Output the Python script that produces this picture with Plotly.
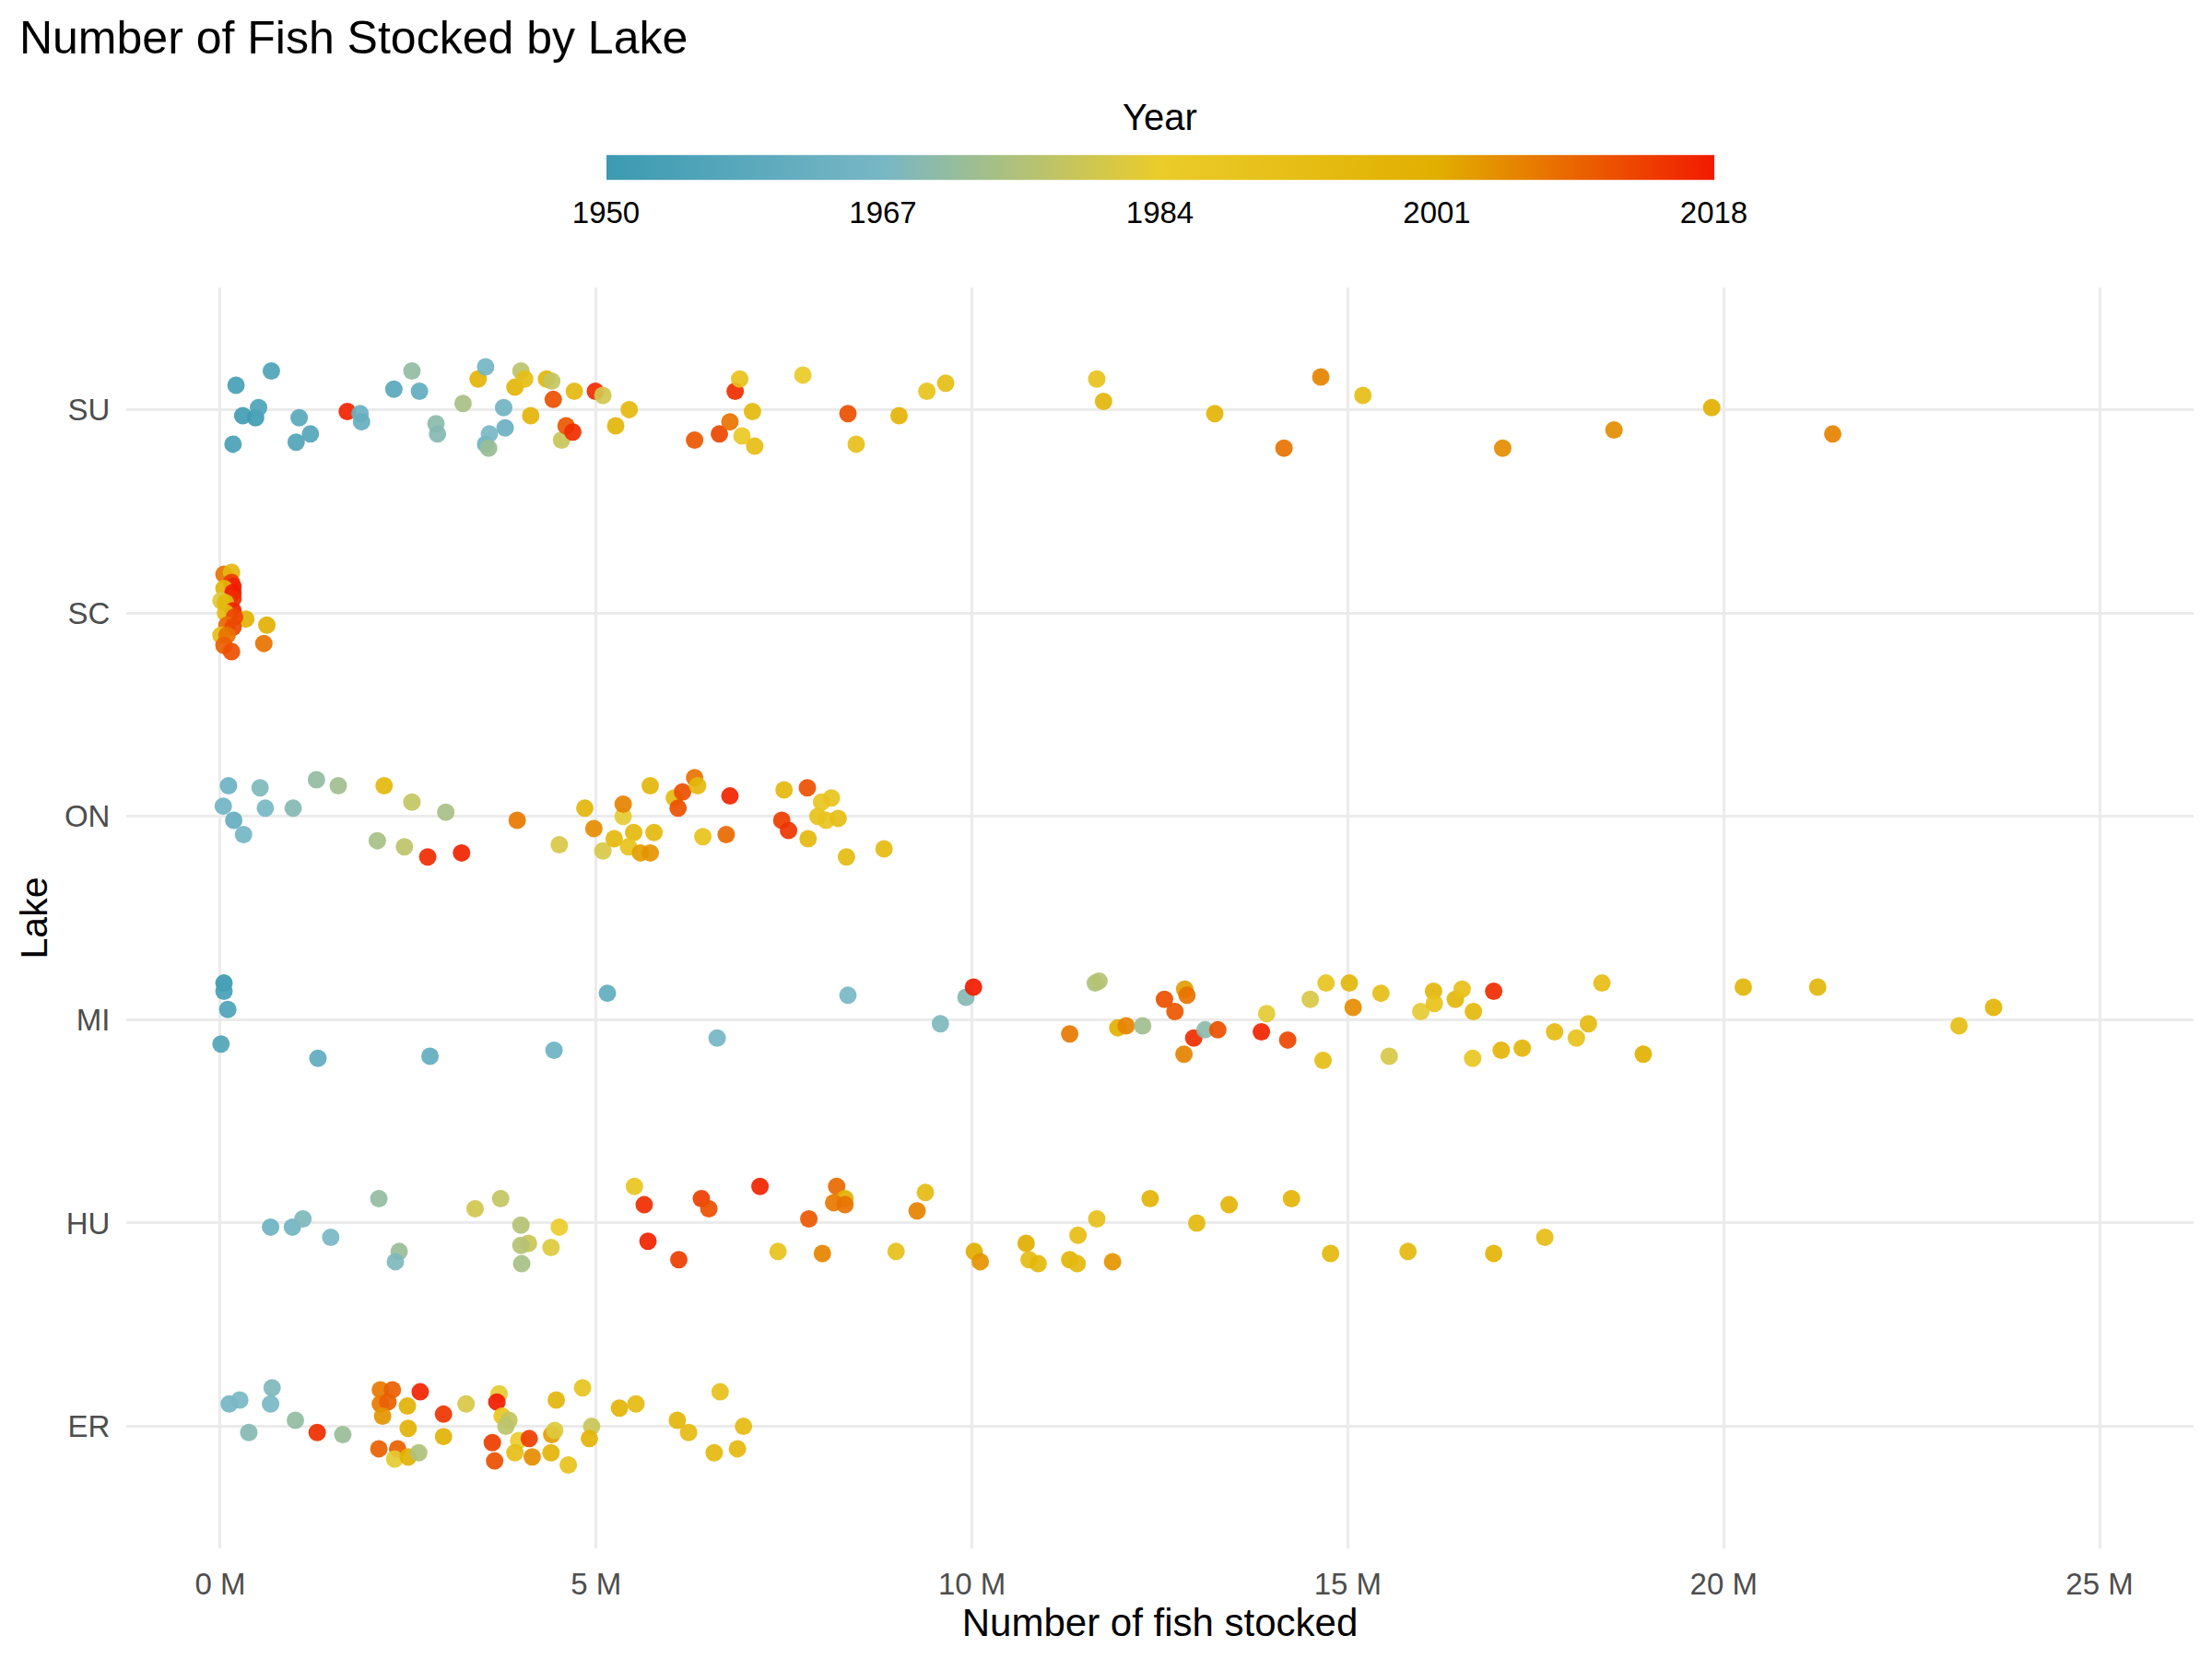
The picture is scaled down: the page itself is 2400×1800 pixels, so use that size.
import pandas as pd
import plotly.graph_objects as go

# lakes from bottom to top
lakes = ["ER", "HU", "MI", "ON", "SC", "SU"]

# values (millions of fish, jitter in row units, year)
su_fish = [0.21, 0.68, 0.17, 0.30, 0.47, 0.51, 1.05, 1.01, 1.20, 1.69, 1.86, 1.88, 2.31, 2.55, 2.65, 2.87,
           2.89, 3.23, 3.43, 3.53, 3.53, 3.58, 3.57, 3.77, 3.79, 3.92, 4.00, 4.05, 4.13, 4.34, 4.41, 4.43,
           4.54, 4.60, 4.69, 4.71, 4.99, 5.09, 5.26, 5.44, 6.31, 6.64, 6.78, 6.85, 6.91, 6.94, 7.08, 7.11,
           7.75, 8.35, 8.46, 9.03, 9.40, 9.65, 11.66, 11.75, 13.23, 14.15, 14.64, 15.20, 17.06, 18.54,
           19.84, 21.45]
su_jitter = [0.12, 0.19, -0.17, -0.03, -0.04, 0.01, -0.04, -0.16, -0.12, -0.01, -0.02, -0.06, 0.10, 0.19,
             0.09, -0.07, -0.12, 0.03, 0.15, 0.21, -0.17, -0.12, -0.19, 0.01, -0.09, 0.11, 0.19, 0.15,
             -0.03, 0.15, 0.14, 0.05, -0.15, -0.08, -0.11, 0.09, 0.09, 0.07, -0.08, 0.00, -0.15, -0.12,
             -0.06, 0.09, 0.15, -0.13, -0.01, -0.18, 0.17, -0.02, -0.17, -0.03, 0.09, 0.13, 0.15, 0.04,
             -0.02, -0.19, 0.16, 0.07, -0.19, -0.10, 0.01, -0.12]
su_year = [1953, 1955, 1954, 1952, 1951, 1955, 1958, 1956, 1957, 2017, 1963, 1962, 1958, 1971, 1961, 1970,
           1969, 1974, 1998, 1966, 1964, 1967, 1972, 1965, 1963, 1997, 1977, 1992, 1998, 1997, 1978, 2012,
           1979, 2011, 2016, 1995, 2016, 1980, 1997, 1996, 2011, 2013, 2008, 2016, 1990, 1986, 1995, 1993,
           1985, 2012, 1991, 1998, 1990, 1992, 1990, 1997, 1998, 2008, 2006, 1992, 2005, 2005, 2000, 2006]

sc_fish = [0.05, 0.15, 0.15, 0.17, 0.05, 0.17, 0.17, 0.01, 0.07, 0.17, 0.07, 0.34, 0.19, 0.62, 0.09, 0.17,
           0.01, 0.09, 0.05, 0.15, 0.58]
sc_jitter = [0.19, 0.20, 0.15, 0.13, 0.12, 0.10, 0.07, 0.06, 0.05, 0.01, 0.00, -0.03, -0.02, -0.06, -0.06,
             -0.07, -0.11, -0.11, -0.16, -0.19, -0.15]
sc_year = [2008, 1995, 2014, 2017, 1998, 2018, 2016, 1982, 1996, 2017, 1994, 1999, 2013, 2000, 2009, 2013,
           1993, 2008, 2010, 2012, 2008]

on_fish = [0.11, 0.04, 0.18, 0.31, 0.53, 0.60, 0.97, 1.28, 1.57, 2.18, 2.55, 3.00, 2.09, 2.45, 2.76, 3.21,
           3.95, 4.51, 4.85, 4.97, 5.09, 5.24, 5.36, 5.36, 5.50, 5.43, 5.59, 5.72, 5.77, 5.72, 6.04, 6.15,
           6.09, 6.31, 6.35, 6.42, 6.73, 6.78, 7.47, 7.50, 7.56, 7.81, 7.82, 7.95, 8.00, 8.06, 8.13, 8.22,
           8.33, 8.83]
on_jitter = [0.15, 0.05, -0.02, -0.09, 0.14, 0.04, 0.04, 0.18, 0.15, 0.15, 0.07, 0.02, -0.12, -0.15, -0.20,
             -0.18, -0.02, -0.14, 0.04, -0.06, -0.17, -0.11, 0.00, 0.06, -0.08, -0.15, -0.18, -0.18, -0.08,
             0.15, 0.09, 0.12, 0.04, 0.19, 0.15, -0.10, -0.09, 0.10, -0.02, 0.13, -0.07, 0.14, -0.11, 0.00,
             0.07, -0.02, 0.09, -0.01, -0.20, -0.16]
on_year = [1964, 1965, 1962, 1966, 1968, 1967, 1969, 1971, 1973, 1996, 1978, 1974, 1974, 1977, 2016, 2017,
           2007, 1981, 1997, 2005, 1981, 1996, 1983, 2006, 1996, 1990, 2003, 2004, 1995, 1997, 1994, 2012,
           2012, 2008, 1996, 1990, 2009, 2017, 2014, 1996, 2015, 2012, 1995, 1990, 1988, 1989, 1989, 1992,
           1994, 1994]

mi_fish = [0.05, 0.05, 0.10, 0.01, 1.30, 2.79, 4.44, 5.15, 6.61, 8.35, 9.58, 9.92, 10.02, 11.30, 11.64,
           11.69, 11.94, 12.05, 12.27, 12.56, 12.70, 12.83, 12.86, 12.95, 12.82, 13.10, 13.27, 13.85, 13.92,
           14.20, 14.50, 14.71, 14.67, 15.02, 15.07, 15.44, 15.55, 15.97, 16.14, 16.15, 16.43, 16.52, 16.67,
           16.94, 16.66, 17.04, 17.32, 17.75, 18.04, 18.20, 18.38, 18.93, 20.26, 21.25, 23.13, 23.59]
mi_jitter = [0.18, 0.14, 0.05, -0.12, -0.19, -0.18, -0.15, 0.13, -0.09, 0.12, -0.02, 0.11, 0.16, -0.07,
             0.18, 0.19, -0.04, -0.03, -0.03, 0.10, 0.04, 0.15, 0.12, -0.09, -0.17, -0.05, -0.05, -0.06,
             0.03, -0.10, 0.10, 0.18, -0.20, 0.18, 0.06, 0.13, -0.18, 0.04, 0.14, 0.08, 0.10, 0.15, 0.04,
             0.14, -0.19, -0.15, -0.14, -0.06, -0.09, -0.02, 0.18, -0.17, 0.16, 0.16, -0.03, 0.06]
mi_year = [1950, 1953, 1955, 1956, 1960, 1961, 1964, 1961, 1966, 1967, 1968, 1969, 2018, 2007, 1975, 1976,
           2000, 2006, 1973, 2012, 2011, 2003, 2008, 2016, 2006, 1970, 2012, 2017, 1983, 2013, 1981, 1989,
           1992, 1997, 2005, 1992, 1981, 1983, 1997, 1990, 1997, 1991, 1996, 2016, 1987, 1998, 1997, 1994,
           1990, 1994, 1993, 2000, 1997, 1997, 1992, 1998]

hu_fish = [0.67, 0.96, 1.10, 1.47, 2.11, 2.38, 2.33, 3.39, 3.73, 4.00, 4.10, 4.00, 4.01, 4.51, 4.40, 5.51,
           5.64, 5.69, 6.10, 6.40, 6.50, 7.18, 7.83, 7.42, 8.01, 8.20, 8.31, 8.16, 8.31, 9.38, 9.27, 8.99,
           10.03, 10.11, 10.72, 10.76, 10.88, 11.30, 11.40, 11.41, 11.66, 11.87, 12.37, 12.99, 13.42, 14.25,
           14.77, 15.80, 16.94, 17.62]
hu_jitter = [-0.02, -0.02, 0.02, -0.07, 0.12, -0.14, -0.19, 0.07, 0.12, -0.01, -0.10, -0.11, -0.20, -0.02,
             -0.12, 0.18, 0.09, -0.09, -0.18, 0.12, 0.07, 0.18, 0.02, -0.14, -0.15, 0.18, 0.12, 0.10, 0.09,
             0.15, 0.06, -0.14, -0.14, -0.19, -0.10, -0.18, -0.20, -0.18, -0.20, -0.06, 0.02, -0.19, 0.12,
             0.00, 0.09, 0.12, -0.15, -0.14, -0.15, -0.07]
hu_year = [1964, 1965, 1968, 1967, 1971, 1972, 1968, 1980, 1978, 1976, 1979, 1976, 1974, 1984, 1982, 1988,
           2016, 2017, 2014, 2014, 2012, 2017, 2011, 1990, 2006, 2009, 2000, 2007, 2008, 1994, 2006, 1991,
           2001, 2004, 2001, 1994, 1996, 1998, 1995, 1993, 1991, 2004, 1998, 1996, 1998, 1998, 1996, 1995,
           1998, 1993]

er_fish = [0.12, 0.26, 0.69, 0.67, 0.38, 1.00, 1.29, 1.63, 2.13, 2.29, 2.13, 2.23, 2.16, 2.49, 2.66, 2.50,
           2.11, 2.36, 2.32, 2.50, 2.64, 2.97, 2.97, 3.27, 3.71, 3.68, 3.75, 3.84, 3.80, 3.62, 3.65, 3.97,
           4.11, 3.92, 4.15, 4.41, 4.45, 4.40, 4.63, 4.47, 4.82, 4.94, 4.91, 5.31, 5.53, 6.08, 6.23, 6.65,
           6.96, 6.57, 6.88]
er_jitter = [0.11, 0.13, 0.19, 0.11, -0.03, 0.03, -0.03, -0.04, 0.18, 0.18, 0.11, 0.12, 0.05, 0.10, 0.17,
             -0.01, -0.11, -0.11, -0.16, -0.15, -0.13, 0.06, -0.05, 0.11, 0.16, 0.12, 0.05, 0.03, 0.00,
             -0.08, -0.17, -0.07, -0.06, -0.13, -0.15, -0.04, -0.02, -0.13, -0.19, 0.13, 0.19, 0.00, -0.06,
             0.09, 0.11, 0.03, -0.03, 0.17, 0.00, -0.13, -0.11]
er_year = [1966, 1967, 1968, 1967, 1969, 1971, 2016, 1972, 2007, 2010, 2007, 2010, 2004, 1999, 2017, 1999,
           2010, 2010, 1983, 1999, 1975, 2015, 1999, 1981, 1983, 2018, 1988, 1978, 1977, 2014, 2012, 1984,
           2014, 1992, 2005, 2003, 1982, 1998, 1990, 1997, 1989, 1979, 1998, 1998, 1994, 1997, 1994, 1991,
           1994, 1996, 1995]

year_ticks = [1950, 1967, 1984, 2001, 2018]
x_ticks = [0, 5, 10, 15, 20, 25]
palette = ["#3B9AB2", "#78B7C5", "#EBCC2A", "#E1AF00", "#F21A00"]

rows = []
for lake, fish, jit, yr in [("SU", su_fish, su_jitter, su_year), ("SC", sc_fish, sc_jitter, sc_year),
                            ("ON", on_fish, on_jitter, on_year), ("MI", mi_fish, mi_jitter, mi_year),
                            ("HU", hu_fish, hu_jitter, hu_year), ("ER", er_fish, er_jitter, er_year)]:
    for f, j, y in zip(fish, jit, yr):
        rows.append((lake, f * 1e6, lakes.index(lake) + 1 + j, y))
df = pd.DataFrame(rows, columns=["lake", "fish", "ypos", "year"])

font = "Liberation Sans, Arial, sans-serif"
colorscale = [[i / (len(palette) - 1), c] for i, c in enumerate(palette)]

fig = go.Figure(go.Scatter(
    x=df["fish"], y=df["ypos"], mode="markers",
    marker=dict(size=19, opacity=0.92, color=df["year"], cmin=1950, cmax=2018,
                colorscale=colorscale,
                colorbar=dict(orientation="h", x=0.5, xanchor="center", y=1.075, yanchor="middle",
                              len=0.545, lenmode="fraction", thickness=27, outlinewidth=0,
                              tickvals=year_ticks, ticks="outside", ticklen=8, tickcolor="rgba(0,0,0,0)",
                              tickfont=dict(size=33, color="black", family=font))),
    showlegend=False,
))

fig.add_annotation(text="Year", x=0.5, y=1.135, xref="paper", yref="paper", xanchor="center",
                   yanchor="middle", showarrow=False, font=dict(size=40, color="black", family=font))

fig.update_layout(
    width=2400, height=1800,
    paper_bgcolor="white", plot_bgcolor="white",
    margin=dict(l=129, r=28, t=304, b=128),
    font=dict(family=font),
    title=dict(text="Number of Fish Stocked by Lake", x=0.0054, xanchor="left", y=0.9817, yanchor="middle",
               font=dict(size=50, color="black", family=font)),
    xaxis=dict(range=[-1.25e6, 26.25e6], tickvals=[v * 1e6 for v in x_ticks],
               ticktext=[f"{v} M" for v in x_ticks], showgrid=True, gridcolor="#EBEBEB", gridwidth=2.5,
               zeroline=False, showline=False, ticks="outside", ticklen=9, tickcolor="rgba(0,0,0,0)",
               tickfont=dict(size=33, color="#4D4D4D"),
               title=dict(text="Number of fish stocked", font=dict(size=42, color="black"), standoff=4)),
    yaxis=dict(range=[0.4, 6.6], tickvals=list(range(1, 7)), ticktext=lakes, showgrid=True,
               gridcolor="#EBEBEB", gridwidth=2.5, zeroline=False, showline=False,
               ticks="outside", ticklen=10, tickcolor="rgba(0,0,0,0)",
               tickfont=dict(size=33, color="#4D4D4D"),
               title=dict(text="Lake", font=dict(size=41, color="black"), standoff=5)),
)

fig.write_html("out.html")
